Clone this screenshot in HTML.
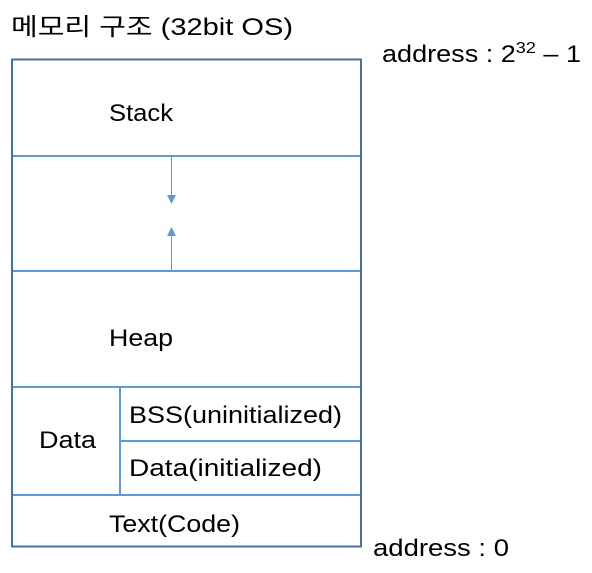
<!DOCTYPE html>
<html><head><meta charset="utf-8"><style>html,body{margin:0;padding:0;background:#fff;}svg{display:block}</style></head>
<body>
<svg width="592" height="573" viewBox="0 0 592 573" xmlns="http://www.w3.org/2000/svg" font-family="'Liberation Sans','Noto Sans CJK KR',sans-serif" font-size="24" fill="#000">
<rect x="0" y="0" width="592" height="573" fill="#fff"/>
<g stroke="#5B9BD5" stroke-width="2" fill="none">
<line x1="12" y1="156" x2="361" y2="156"/>
<line x1="12" y1="271" x2="361" y2="271"/>
<line x1="12" y1="387" x2="361" y2="387"/>
<line x1="120" y1="441" x2="361" y2="441"/>
<line x1="12" y1="495" x2="361" y2="495"/>
<line x1="120" y1="387" x2="120" y2="495"/>
<line x1="171.5" y1="157" x2="171.5" y2="196" stroke-width="1"/>
<line x1="171.5" y1="235" x2="171.5" y2="270" stroke-width="1"/>
</g>
<polygon points="167,195 176,195 171.5,204" fill="#5B9BD5"/>
<polygon points="167,236 176,236 171.5,227" fill="#5B9BD5"/>
<rect x="12" y="59.5" width="349" height="487" fill="none" stroke="#41719C" stroke-width="2"/>
<text x="11" y="35" textLength="282" lengthAdjust="spacingAndGlyphs">메모리 구조 (32bit OS)</text>
<text x="382" y="62" textLength="199" lengthAdjust="spacingAndGlyphs">address : 2<tspan font-size="16" dy="-9">32</tspan><tspan dy="9"> – 1</tspan></text>
<text x="109" y="121" textLength="64" lengthAdjust="spacingAndGlyphs">Stack</text>
<text x="109" y="346" textLength="64" lengthAdjust="spacingAndGlyphs">Heap</text>
<text x="39" y="448" textLength="57" lengthAdjust="spacingAndGlyphs">Data</text>
<text x="129" y="423" textLength="213" lengthAdjust="spacingAndGlyphs">BSS(uninitialized)</text>
<text x="129" y="476" textLength="193" lengthAdjust="spacingAndGlyphs">Data(initialized)</text>
<text x="109" y="532" textLength="131" lengthAdjust="spacingAndGlyphs">Text(Code)</text>
<text x="373" y="556" textLength="136" lengthAdjust="spacingAndGlyphs">address : 0</text>
</svg>
</body></html>
